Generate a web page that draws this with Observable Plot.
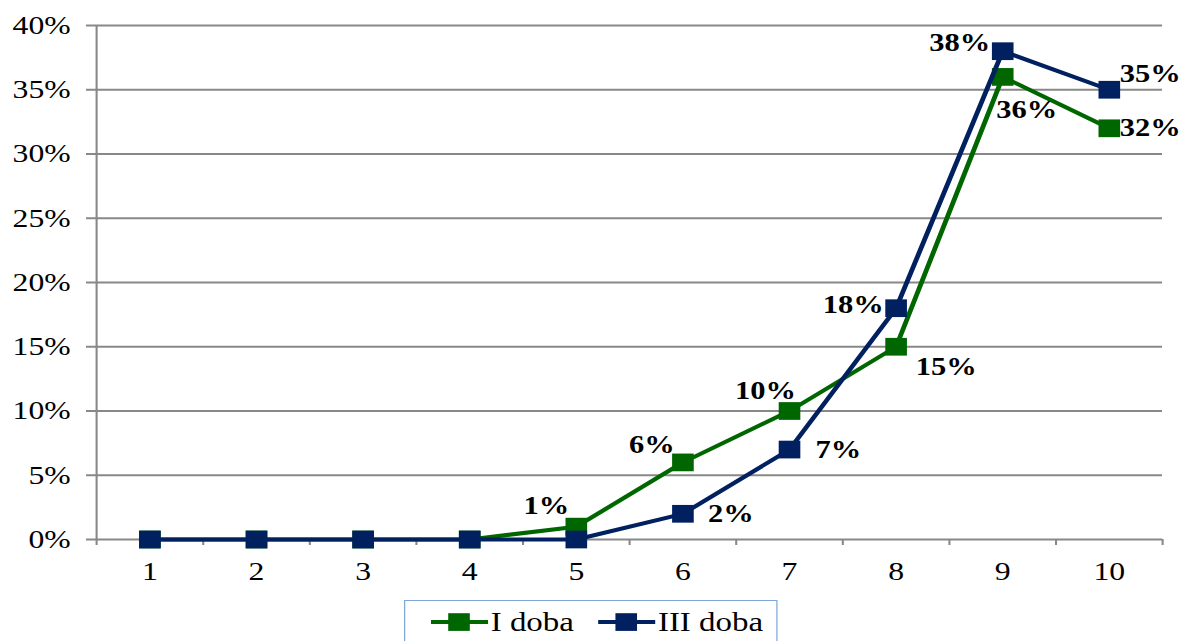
<!DOCTYPE html>
<html><head><meta charset="utf-8">
<script src="https://cdn.jsdelivr.net/npm/d3@7"></script>
<script src="https://cdn.jsdelivr.net/npm/@observablehq/plot@0.6"></script>
<style>
body{margin:0;background:#fff;overflow:hidden}
#wrap{position:relative;width:970px;height:641px;transform:scaleX(1.2206);transform-origin:0 0;font-family:"Times New Roman","Liberation Serif",Tinos,serif;color:#000}
#legend{position:absolute;left:331px;top:600px;width:306px;height:52px;border:1.5px solid #7ea6d8;box-sizing:border-box;background:#fff}
.item{position:absolute;top:0;height:42px;display:flex;align-items:center;font-size:27px;color:#000;white-space:nowrap}
.item svg{display:block;margin-right:2px}
svg text{font-family:"Times New Roman","Liberation Serif",Tinos,serif}
</style></head>
<body><div id="wrap"><div id="chart"></div><div id="legend"></div></div>
<script>
// ---- data ----
const categories = [1, 2, 3, 4, 5, 6, 7, 8, 9, 10];
const doba1 = [0, 0, 0, 0, 0.01, 0.06, 0.10, 0.15, 0.36, 0.32]; // I doba
const doba3 = [0, 0, 0, 0, 0, 0.02, 0.07, 0.18, 0.38, 0.35];    // III doba
const seriesNames = ["I doba", "III doba"];
const yTicks = [0, 0.05, 0.10, 0.15, 0.20, 0.25, 0.30, 0.35, 0.40];

// ---- styling / label placement (plot-space offsets) ----
const seriesColors = ["#006600", "#002060"];
const gridColor = "#888888";
const labelOffsets1 = [null, null, null, null, [-24.6, -21], [-25.4, -17], [-19.7, -20], [41, 20], [19.7, 33], [33.6, 0]];
const labelOffsets3 = [null, null, null, null, null, [39.3, 0], [40.1, 0], [-35.2, -3], [-35.2, -8], [33.6, -16]];

const series = [doba1, doba3];
const offsets = [labelOffsets1, labelOffsets3];
const rows = series.map((vals, s) => categories.map((c, i) => ({cat: c, v: vals[i], s})));
const labels = [];
series.forEach((vals, s) => vals.forEach((v, i) => {
  const o = offsets[s][i];
  if (o) labels.push({cat: categories[i], v, dx: o[0], dy: o[1]});
}));
const xDomain = [categories[0] - 0.5, categories[categories.length - 1] + 0.5];
const boundaries = categories.map(c => c - 0.5).concat([xDomain[1]]);
const fmt = d3.format(".0%");
const serif = '"Times New Roman","Liberation Serif",Tinos,serif';

const marks = [
  Plot.gridY(yTicks, {stroke: gridColor, strokeOpacity: 1, strokeWidth: 2}),
  Plot.axisY(yTicks, {tickFormat: fmt, tickSize: 8.2, tickPadding: 13, fontSize: 26, fontFamily: serif, stroke: gridColor, strokeWidth: 2, label: null}),
  Plot.ruleX([xDomain[0]], {stroke: gridColor, strokeWidth: 1.7}),
  Plot.axisX(boundaries, {tickSize: 6, tickFormat: () => "", stroke: gridColor, strokeWidth: 1.7, label: null}),
  Plot.axisX(categories, {tickSize: 0, tickPadding: 22, fontSize: 26, fontFamily: serif, label: null})
];
rows.forEach((r, s) => {
  marks.push(Plot.lineY(r, {x: "cat", y: "v", stroke: seriesColors[s], strokeWidth: 4}));
  marks.push(Plot.dot(r, {x: "cat", y: "v", symbol: "square", r: 10, fill: seriesColors[s]}));
});
labels.forEach(l => {
  marks.push(Plot.text([l], {x: "cat", y: "v", text: d => fmt(d.v), dx: l.dx, dy: l.dy, fontSize: 25, fontFamily: serif, fontWeight: "bold", fill: "#000"}));
});

const chart = Plot.plot({
  width: 970, height: 590,
  marginLeft: 78.65, marginRight: 18, marginTop: 25, marginBottom: 51,
  x: {type: "linear", domain: xDomain, label: null},
  y: {domain: [yTicks[0], yTicks[yTicks.length - 1]], label: null},
  style: {fontFamily: serif, background: "transparent", color: "#000", overflow: "visible"},
  marks
});
document.getElementById("chart").appendChild(chart);

// ---- legend ----
const legend = document.getElementById("legend");
const itemLeft = [21, 158];
seriesNames.forEach((name, s) => {
  const item = document.createElement("div");
  item.className = "item";
  item.style.left = itemLeft[s] + "px";
  item.innerHTML = `<svg width="47" height="20"><line x1="0" x2="47" y1="10" y2="10" stroke="${seriesColors[s]}" stroke-width="4"/><rect x="14.2" y="1.2" width="17.7" height="17.7" fill="${seriesColors[s]}"/></svg><span>${name}</span>`;
  legend.appendChild(item);
});
</script>
</body></html>
